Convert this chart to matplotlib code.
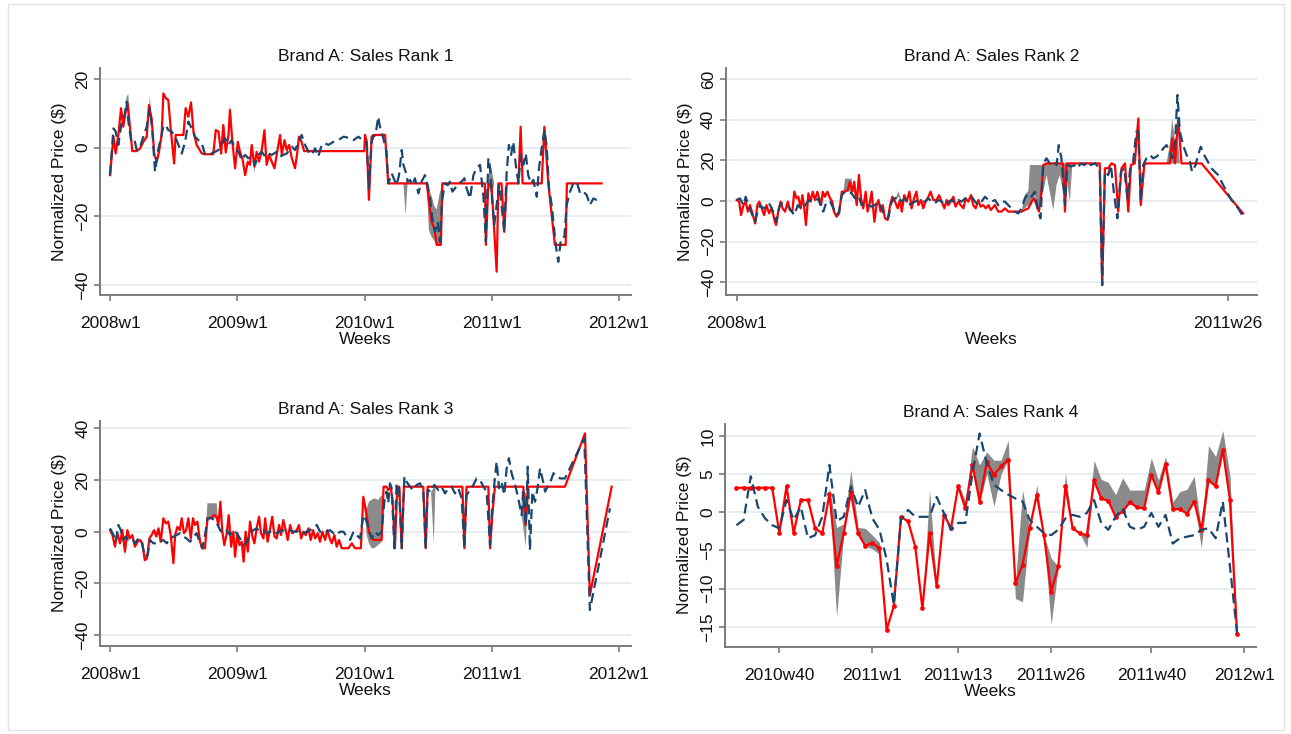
import matplotlib
matplotlib.use("Agg")
import matplotlib.pyplot as plt
from matplotlib.patches import Rectangle

plt.rcParams['font.family'] = ['Liberation Sans', 'DejaVu Sans']
nan = float('nan')

# ---------------- data (weeks counted from 2008w1 = 0) ----------------
# Panel 1: Brand A, Sales Rank 1
p1_red_wk = [0.0,1.4,2.3,3.4,4.5,5.4,6.4,7.2,8.2,9.1,10.9,12.3,13.6,15.0,15.9,17.0,18.1,19.1,20.0,21.1,21.8,22.8,23.8,24.9,26.2,26.8,30.0,30.9,32.0,33.1,34.1,35.4,37.5,38.8,42.2,43.2,44.3,45.4,46.3,47.3,48.4,49.0,50.0,51.1,52.2,53.1,54.1,55.2,56.3,57.2,57.9,59.0,59.9,60.9,62.0,63.1,64.0,65.0,66.1,67.2,68.1,69.5,70.2,71.3,72.2,73.2,74.3,75.6,76.4,77.2,78.3,79.3,103.9,104.2,104.9,105.8,106.9,107.6,112.4,113.7,129.4,131.4,132.5,133.5,135.2,135.8,153.2,153.6,154.6,155.9,158.0,158.7,160.0,161.1,162.1,166.9,167.8,168.6,176.4,177.5,179.1,181.8,186.2,186.7,200.9]
p1_red_val = [-8.0,3.2,-1.7,3.7,11.5,6.1,10.5,12.9,5.6,-1.0,-1.0,-0.2,1.7,3.2,12.4,8.5,-2.1,-4.1,-1.2,3.7,15.8,14.4,13.9,4.7,-4.6,3.7,3.7,11.5,9.0,13.2,4.7,0.8,-1.7,-1.9,-1.9,5.1,4.7,-1.7,6.6,-1.4,3.7,11.0,1.7,-6.0,1.7,-1.2,-3.1,-8.0,-4.1,-5.0,0.8,-5.5,-1.2,-4.1,-0.7,5.1,-5.0,-2.1,-4.1,-6.0,-2.1,3.7,-2.1,2.2,-0.7,0.8,-3.1,-6.0,-2.1,3.2,1.7,-1.0,-1.0,3.7,1.7,-15.2,3.2,3.7,3.7,-10.4,-10.4,-21.6,-23.5,-28.3,-28.3,-10.4,-10.4,-28.3,-10.4,-10.9,-36.1,-10.4,-10.4,-24.5,-10.4,-10.4,6.1,-10.4,-10.4,6.1,-10.4,-28.3,-28.3,-10.4,-10.4]
p1_blue_wk = [0.0,1.4,2.3,3.4,4.8,5.9,6.8,7.5,8.6,9.9,10.9,12.3,13.6,15.0,16.3,17.3,18.4,19.5,20.4,21.8,22.8,23.8,25.2,27.2,29.3,30.7,32.0,33.4,34.7,36.1,37.5,38.8,40.9,42.9,44.3,45.6,47.0,48.4,49.7,51.1,52.5,53.8,55.2,56.5,57.9,59.3,60.6,62.0,63.4,64.7,66.1,68.1,69.5,70.8,72.2,74.3,75.6,77.0,78.3,79.7,81.1,82.4,83.8,85.1,86.5,87.9,89.2,91.3,93.3,95.4,97.4,99.5,101.5,104.0,
              104.9,105.8,106.9,107.6,108.5,109.6,110.3,111.7,113.0,113.7,115.1,116.2,117.1,118.1,119.2,119.9,120.8,121.6,122.6,123.5,124.6,126.0,127.3,128.7,129.8,130.8,131.7,132.8,133.9,134.8,135.8,136.9,138.0,138.9,139.9,141.0,142.3,143.7,144.8,145.7,147.1,148.5,149.8,151.2,152.6,153.6,154.6,155.3,155.9,157.0,158.0,159.0,160.0,161.1,162.1,163.0,163.9,164.8,165.8,166.9,167.8,168.9,169.9,170.9,172.0,173.0,174.4,175.3,176.4,177.5,178.4,179.4,180.5,181.6,182.5,183.2,184.3,185.7,186.6,188.0,189.3,190.7,192.1,193.4,194.8,196.1,197.5,198.9,200.9]
p1_blue_val = [-8.0,5.6,4.7,0.8,7.6,9.5,13.4,7.6,2.2,2.7,-0.7,0.3,3.2,6.1,11.5,4.7,-7.0,-1.2,1.7,6.1,6.6,5.1,4.7,2.2,-1.7,1.7,7.6,5.6,3.2,2.2,1.3,-1.9,-1.9,-1.2,-0.7,0.8,2.7,0.8,2.2,-0.2,-1.2,-3.6,-2.1,-3.1,-2.6,-5.0,-2.1,-1.2,-2.6,-1.7,-2.1,-1.2,-2.6,-2.1,-1.7,0.3,-0.7,1.7,3.7,0.8,-1.2,-2.1,-0.2,-2.6,0.8,1.3,0.8,1.7,2.2,3.2,2.9,2.2,3.2,1.7,
               1.7,-11.8,1.7,3.2,3.7,9.0,6.1,2.7,-1.2,-10.4,-7.5,-9.4,-10.9,-8.0,-0.7,-5.0,-7.0,-9.9,-9.4,-10.9,-8.9,-13.3,-9.9,-8.0,-10.9,-14.8,-20.6,-24.5,-21.6,-27.4,-14.8,-10.4,-10.9,-9.9,-12.8,-11.8,-10.4,-9.9,-8.9,-11.8,-14.8,-8.0,-6.0,-5.0,-14.3,-27.4,-3.1,-6.0,-12.8,-22.5,-16.7,-10.9,-16.7,-24.5,-7.0,0.8,-2.1,1.7,-5.0,-10.4,-2.1,-5.0,-1.7,-8.0,-10.4,-9.4,-14.3,-6.0,-0.2,5.1,0.8,-11.8,-16.7,-24.5,-30.3,-33.2,-26.4,-25.9,-16.7,-12.8,-10.4,-9.9,-13.3,-12.8,-13.8,-16.7,-14.8,-15.2,-14.8]
p1_gray_wk = [5.9,6.8,7.5,8.6,nan,15.0,16.3,17.3,nan,48.4,49.0,50.0,nan,57.9,59.0,59.9,nan,119.9,120.8,121.6,nan,129.4,130.3,131.4,132.5,133.5,134.5,135.2,135.8,nan,154.6,155.3,155.9,157.0]
p1_gray_lo = [9.5,12.9,7.6,2.2,nan,3.2,11.5,4.7,nan,0.8,11.0,1.7,nan,0.8,-7.5,-1.2,nan,-10.4,-19.6,-10.4,nan,-10.4,-24.0,-26.0,-27.0,-28.3,-28.3,-28.3,-10.4,nan,-10.4,-12.8,-14.0,-10.4]
p1_gray_hi = [9.5,15.0,15.5,2.2,nan,3.2,15.0,4.7,nan,0.8,13.0,1.7,nan,0.8,-5.0,-1.2,nan,-10.4,-10.4,-10.4,nan,-10.4,-12.0,-14.0,-17.0,-18.0,-14.0,-12.0,-10.4,nan,-10.4,-4.0,-6.0,-10.4]

# Panel 2: Brand A, Sales Rank 2
p2_red_wk = [0.0,0.9,1.6,2.5,3.3,4.1,4.9,5.8,6.8,7.6,8.3,9.2,10.1,11.0,11.9,12.9,13.9,14.5,15.3,16.2,16.9,17.8,18.8,19.6,20.5,21.2,22.1,22.7,23.6,24.2,24.9,25.5,26.4,27.2,28.0,28.8,29.7,30.4,31.1,31.7,32.5,33.4,34.4,35.2,35.8,36.8,37.7,38.7,39.9,40.9,41.7,42.6,43.3,44.2,45.0,45.8,46.6,47.5,48.2,49.1,49.7,50.7,51.5,52.2,53.0,53.8,54.6,55.6,56.5,57.3,58.3,59.3,60.1,60.8,61.7,62.6,63.6,64.4,65.3,66.2,66.9,67.9,68.7,69.6,70.6,71.4,72.4,73.6,74.5,75.5,76.5,77.3,77.9,78.8,79.8,80.6,81.6,82.5,83.5,84.3,85.3,86.3,87.1,88.0,89.0,89.8,90.8,91.7,92.7,93.6,95.1,
             96.3,97.5,98.8,100.0,101.2,103.7,104.9,106.1,107.4,108.6,109.6,110.4,111.3,112.0,112.9,114.1,120.2,120.9,121.5,133.7,134.6,135.6,136.8,138.0,139.3,140.5,141.7,143.0,144.2,145.2,146.6,147.9,148.8,150.1,150.9,159.5,160.4,161.4,162.6,163.8,171.2,186.5]
p2_red_val = [0.5,-0.3,-6.9,-2.0,-0.3,-5.2,-2.0,-6.1,-11.0,-2.0,-0.3,-3.6,-6.9,-2.0,-6.1,-3.6,-9.3,-11.8,-5.2,-0.3,-3.6,-5.2,-0.3,-4.4,-5.2,4.6,1.3,2.1,-3.6,2.9,-3.6,-11.8,3.8,-0.3,4.6,0.5,4.6,1.3,-2.0,4.6,2.1,4.6,1.3,-0.3,-5.2,-7.7,-6.1,4.6,4.6,5.4,9.5,4.6,9.5,-2.0,12.8,1.3,-3.6,4.6,-5.2,-0.3,4.6,-10.2,-2.0,0.5,-5.2,-2.0,-8.5,-9.3,-2.0,2.1,-0.3,-3.6,0.5,-5.2,2.9,-0.3,4.6,-3.6,1.3,4.6,-2.0,0.5,-3.6,-0.3,2.1,4.6,0.5,0.5,2.9,-0.3,-3.6,0.5,-2.0,-0.3,2.1,-2.8,-0.3,-2.0,-3.6,1.3,-0.3,2.9,-2.0,-3.6,0.5,-2.8,-2.0,-3.6,-2.0,-4.4,-2.0,
              -5.2,-5.2,-3.6,-5.2,-5.2,-5.2,-5.2,-4.4,-3.6,-0.3,1.3,-2.0,-5.2,1.3,17.7,18.5,18.5,-5.2,18.5,18.5,-41.3,16.1,16.1,18.5,17.7,-5.2,16.1,18.5,-5.2,17.7,18.5,40.6,-2.0,17.7,18.5,18.5,30.8,18.5,40.6,18.5,18.5,-6.1]
p2_blue_wk = [0.0,1.2,2.5,3.3,4.3,5.5,6.8,7.7,8.6,9.8,11.0,11.9,12.9,13.9,14.7,15.7,16.6,17.8,19.0,20.3,21.2,22.5,23.7,24.9,26.1,27.4,28.8,30.1,31.1,31.9,33.1,34.4,35.6,36.8,37.7,38.7,39.9,41.1,42.3,43.6,44.8,46.0,47.3,48.5,49.7,50.9,52.2,53.4,54.6,55.8,57.1,58.3,59.5,60.8,62.0,63.2,64.4,65.7,66.9,68.1,69.3,70.6,71.8,73.0,74.3,75.5,76.7,77.9,79.2,80.4,81.6,82.8,84.1,85.3,86.5,87.8,89.0,90.2,91.4,92.7,93.9,95.1,
              96.3,97.5,98.8,100.0,101.2,102.4,103.7,104.9,106.1,107.4,108.6,109.8,111.0,111.9,112.9,114.1,115.3,116.6,117.8,118.6,119.6,120.9,121.8,123.1,124.3,125.5,126.7,128.0,129.2,130.4,131.9,133.7,134.6,135.6,136.8,137.8,139.0,140.2,141.5,142.7,143.9,144.9,146.0,147.2,147.9,148.8,149.7,150.9,152.2,153.4,154.6,155.8,157.1,158.3,159.5,160.4,161.4,162.3,163.2,164.4,165.7,166.9,167.7,169.0,169.9,170.9,172.4,174.9,177.3,179.8,182.2,184.7,186.5]
p2_blue_val = [0.5,1.3,-2.0,2.1,-2.0,-6.1,-10.2,-5.2,-2.0,-3.6,-2.8,-1.1,-3.6,-6.9,-10.2,-2.8,-1.1,-2.0,-2.8,-5.2,-6.9,-2.0,-3.6,-2.8,-0.3,0.5,-0.3,1.3,-3.6,-5.2,-0.3,-0.3,-3.6,-6.9,-5.2,2.9,4.6,4.6,3.8,1.3,2.9,-2.0,-1.1,-2.0,-2.8,-2.0,-0.3,-3.6,-7.7,-8.5,-0.3,1.3,2.1,-0.3,1.3,-2.0,-1.1,-0.3,0.5,-0.3,-0.3,1.3,-0.3,-1.1,0.5,-0.3,-2.0,-0.3,0.5,-1.1,0.5,-0.3,1.3,1.3,2.1,-0.3,-2.0,-0.3,2.1,0.5,-0.3,0.5,
               -2.0,-0.3,-0.3,-2.0,-3.6,-5.2,-6.1,-3.6,1.3,3.8,2.1,4.6,-5.2,-8.5,18.5,21.0,18.5,19.3,17.7,27.5,21.0,-2.0,17.7,16.9,17.7,16.1,18.5,17.7,19.3,17.7,18.5,16.1,-41.3,14.4,12.8,17.7,2.9,-8.5,14.4,16.1,1.3,16.1,19.3,34.1,34.1,-0.3,17.7,21.0,22.6,21.0,21.8,23.4,25.9,27.5,24.2,21.0,27.5,52.1,34.1,27.5,22.6,19.3,14.4,17.7,22.6,26.7,22.0,16.0,12.8,6.2,0.5,-3.6,-7.7]
p2_gray_wk = [39.3,39.9,42.3,42.9,nan,58.3,59.5,60.8,nan,104.9,106.1,107.4,108.0,108.6,109.8,111.0,112.0,112.9,114.1,115.3,116.6,117.8,119.0,120.2,121.5,122.7,123.6,nan,158.3,159.5,160.4,161.4,162.0,162.6,163.2]
p2_gray_lo = [4.6,4.6,4.6,4.6,nan,-0.3,2.1,-0.3,nan,-5.2,-3.6,-2.0,-2.0,-2.0,2.9,-5.2,1.3,4.6,12.8,4.6,-4.4,7.9,12.8,4.6,11.1,-0.3,17.7,nan,18.5,18.5,18.5,18.5,18.5,18.5,18.5]
p2_gray_hi = [4.6,11.0,11.0,4.6,nan,-0.3,5.0,-0.3,nan,-5.2,3.0,5.0,17.7,17.7,17.7,17.7,17.7,17.7,18.5,18.5,18.5,18.5,18.5,18.5,18.5,18.5,17.7,nan,18.5,28.0,40.6,30.0,33.0,28.0,18.5]

# Panel 3: Brand A, Sales Rank 3
p3_red_wk = [0.0,1.0,2.0,3.0,4.1,5.0,6.1,7.1,8.0,9.1,10.2,11.2,12.3,13.2,14.2,15.1,16.1,17.0,18.0,18.9,19.8,20.7,21.8,22.8,23.8,24.8,25.9,26.6,27.5,28.5,29.3,30.2,31.1,32.0,33.0,33.9,34.7,35.7,36.8,37.7,38.8,39.8,40.7,41.8,42.6,43.5,44.3,45.1,45.9,46.7,47.7,48.5,49.5,50.4,51.1,52.0,52.9,53.8,54.6,55.4,56.3,57.2,58.2,59.0,59.9,60.9,61.7,62.7,63.4,64.4,65.4,66.3,67.2,68.1,69.1,69.9,70.8,71.8,72.6,73.6,74.5,75.3,76.3,77.2,78.1,79.0,80.0,81.1,82.0,83.0,83.8,84.9,85.8,86.8,87.9,88.8,89.8,90.6,91.7,92.6,93.6,94.7,96.0,97.4,98.8,100.1,101.5,102.5,103.5,
             104.9,105.8,106.9,108.0,111.0,111.8,113.0,113.7,114.7,115.5,116.4,117.4,118.2,119.2,120.1,128.0,129.0,129.8,144.0,144.8,145.7,154.6,155.3,156.2,157.3,168.9,169.9,170.9,185.9,194.1,196.1,205.0]
p3_red_val = [0.6,-1.3,-5.8,-0.6,-4.5,0.6,-7.7,0.6,-2.6,-1.3,-5.8,-3.9,-3.2,-4.5,-11.0,-10.3,-2.6,-1.3,0.6,-1.9,1.3,-3.9,5.2,3.2,3.9,-1.3,-12.2,-1.3,1.9,0.6,5.2,-0.6,0.6,5.2,-2.6,5.2,2.6,3.9,-3.9,-6.4,-6.4,5.2,5.2,5.8,6.4,5.8,2.6,11.6,0.0,-5.2,-0.6,6.4,-5.8,0.0,-9.7,-0.6,-5.2,-3.9,-11.6,0.0,-7.7,3.9,-1.9,-4.5,1.3,5.8,-0.6,-2.6,5.2,-3.9,1.3,5.8,-1.9,-2.6,2.6,-1.3,4.5,0.6,-3.2,2.6,-0.6,0.0,0.6,2.6,-2.6,0.0,-1.3,1.3,-3.2,0.6,-2.6,-0.6,-3.9,0.0,-3.2,0.6,-2.6,-4.5,-1.3,-5.8,-3.2,-6.4,-6.4,-6.4,-4.5,-6.4,-6.4,-6.4,13.5,
              6.4,0.0,-2.6,-3.2,-3.2,17.4,17.4,16.1,17.4,11.6,-6.4,17.4,17.4,-6.4,17.4,17.4,-6.4,17.4,17.4,-6.4,17.4,17.4,-6.4,6.4,17.4,17.4,2.6,17.4,17.4,38.0,-24.5,17.4]
p3_blue_wk = [0.0,1.4,2.3,3.4,4.4,5.4,6.4,7.5,8.9,10.2,11.6,12.9,14.3,15.4,16.3,17.7,19.1,20.4,21.8,23.2,24.5,25.9,27.2,28.6,30.0,31.3,32.7,34.1,35.4,36.8,37.7,38.8,39.9,41.3,42.9,44.0,45.0,46.3,47.7,49.0,50.4,51.8,53.1,54.5,55.9,57.2,58.6,59.9,61.3,62.7,64.0,65.4,66.8,68.1,69.5,70.8,72.2,73.6,74.9,76.3,77.7,79.0,80.4,81.7,83.1,84.5,85.8,87.2,88.6,89.9,91.3,92.6,94.0,95.4,96.7,98.1,99.5,100.8,102.2,103.5,
              104.9,105.8,106.9,108.3,109.6,111.0,112.1,113.0,113.7,114.4,115.1,116.2,117.1,118.1,119.2,120.3,121.2,122.6,123.9,125.3,126.7,128.0,129.0,129.8,131.2,132.5,134.2,135.5,136.9,138.2,139.6,141.0,142.3,143.7,144.8,145.7,147.1,148.5,149.8,151.2,152.6,153.9,155.3,156.2,157.3,158.0,159.0,160.0,161.1,162.1,163.0,164.1,165.2,166.2,167.1,168.2,168.9,169.9,170.7,171.6,172.6,173.7,174.8,175.7,176.7,177.8,178.8,179.8,181.2,182.5,183.9,185.9,193.8,196.1,204.3]
p3_blue_val = [1.3,-1.3,-3.9,2.6,0.6,-3.2,-1.9,-3.2,-2.6,-4.5,-2.6,-3.9,-9.7,-9.0,-3.2,-4.5,-4.5,-3.9,-3.2,-4.5,-2.6,-1.9,-1.3,-0.6,-1.9,-2.6,-3.9,-1.9,-0.6,-4.5,-6.4,-1.3,5.2,5.2,4.5,2.6,0.6,-0.6,0.6,-1.3,0.6,-0.6,-2.6,-5.2,-3.9,-0.6,0.6,1.3,0.0,0.6,-0.6,0.0,0.6,-0.6,0.0,0.6,0.0,0.6,0.0,0.0,0.6,-0.6,0.0,0.6,1.3,2.6,0.0,-0.6,0.0,0.6,-0.6,-1.3,0.0,0.0,-1.9,-3.2,0.0,-1.3,-2.6,6.4,
               3.9,1.3,-2.6,0.0,-1.3,0.0,11.6,15.5,11.0,18.7,16.8,-6.4,18.7,16.8,-6.4,21.3,19.3,17.4,16.1,18.1,18.7,15.5,-6.4,16.1,15.5,18.1,16.1,17.4,14.8,16.8,17.4,14.8,16.8,12.9,-6.4,14.2,16.1,18.1,20.6,20.0,17.4,15.5,-5.2,9.0,21.3,27.1,16.8,19.3,14.2,24.5,28.4,22.6,19.3,15.5,11.6,6.4,15.5,2.6,25.1,-7.1,15.5,11.6,17.4,24.5,20.6,15.5,17.4,18.7,22.6,21.9,20.6,20.6,36.1,-30.3,9.0]
p3_gray_wk = [5.0,6.1,7.1,nan,38.8,39.8,43.6,44.3,nan,103.5,104.9,105.8,106.9,108.0,109.6,111.0,112.1,nan,131.2,132.3,133.0,nan,168.2,169.9,170.7]
p3_gray_lo = [0.6,-9.5,0.6,nan,-6.4,5.2,5.2,2.6,nan,13.5,-1.3,-4.5,-6.4,-6.4,-5.2,-3.9,11.6,nan,15.5,-4.5,17.0,nan,6.4,-5.8,15.5]
p3_gray_hi = [0.6,-7.7,0.6,nan,-6.4,11.0,11.0,2.6,nan,13.5,9.0,11.6,12.3,12.9,12.3,14.2,11.6,nan,15.5,17.0,17.0,nan,15.5,15.0,17.0]

# Panel 4: Brand A, Sales Rank 4 (weekly, 2010w34 .. 2011w52)
p4_wk = list(range(137, 208))
p4_red = [3.2,3.2,3.2,3.2,3.2,3.2,-2.75,3.4,-2.75,1.6,
          1.6,-2.1,-2.75,2.4,-7.1,-2.75,2.6,-2.75,-4.4,-4.0,
          -4.7,-15.4,-12.3,-0.6,-1.2,-4.5,-12.6,-2.75,-9.7,-0.3,
          -2.1,3.4,0.5,6.2,1.4,6.6,4.9,6.0,6.9,-9.3,
          -6.9,-2.1,2.3,-3.0,-10.4,-7.1,3.4,-2.1,-2.75,-3.0,
          4.2,1.8,1.5,-0.6,0.1,1.3,0.65,0.5,4.9,2.6,
          6.3,0.4,0.4,-0.2,1.4,-2.3,4.2,3.4,8.2,1.6,
          -16.0]
p4_blue = [-1.7,-1.0,4.7,0.7,-0.8,-1.7,-2.1,1.6,-1.0,0.7,
           -3.4,-3.0,-0.6,6.2,-1.2,-0.6,3.4,0.7,2.9,-0.8,
           -2.3,-6.2,-12.1,-1.0,0.3,-0.6,-0.6,-0.6,2.0,-0.1,
           -2.3,-1.4,-1.4,5.1,10.3,6.4,3.6,2.9,2.3,1.8,
           1.4,-1.0,-1.9,-2.75,-3.0,-2.3,-0.8,-0.35,-0.6,-0.1,
           1.6,-1.4,-2.3,-0.6,0.5,-1.9,-2.3,-1.9,-0.1,-1.9,
           -0.35,-4.1,-3.4,-3.2,-3.0,-2.3,-2.1,-3.4,1.4,-7.1,
           -15.8]
p4_gray_lo = [3.2,3.2,3.2,3.2,3.2,3.2,-2.75,3.4,-2.75,1.6,
              1.6,-2.1,-2.75,2.4,-13.7,-2.75,2.6,-2.75,-4.4,-4.8,
              -5.5,-15.4,-12.3,-0.6,-1.2,-4.5,-12.6,-2.75,-9.7,-0.3,
              -2.1,3.4,0.5,6.2,1.4,5.0,0.8,5.0,6.9,-11.3,
              -11.7,-2.1,2.3,-3.5,-14.7,-7.1,3.4,-2.1,-2.75,-4.6,
              4.2,1.8,1.5,-0.6,0.1,1.3,0.65,0.5,4.9,2.6,
              6.3,0.4,0.4,-0.2,1.4,-4.7,4.2,3.4,8.2,1.6,
              -16.0]
p4_gray_hi = [3.2,3.2,3.2,3.2,3.2,3.2,-2.75,3.4,-2.75,1.6,
              1.6,-2.1,-2.75,3.2,-2.0,-1.5,5.5,-2.0,-2.1,-3.0,
              -4.0,-15.4,-12.3,-0.6,-1.2,-4.5,-12.6,2.9,-9.7,0.0,
              -2.1,3.8,1.5,8.6,6.2,7.9,6.8,6.8,9.4,-9.3,
              2.9,-2.1,3.6,-3.0,-6.0,-7.1,5.1,-2.1,-2.75,-3.0,
              6.8,4.3,3.9,2.3,4.5,2.9,2.9,2.9,7.1,4.2,
              7.3,1.3,2.7,3.0,4.7,-2.3,8.7,7.3,10.7,4.8,
              -16.0]

# tick positions / labels
yr_ticks = [0, 52, 104, 156, 208]
yr_labels = ['2008w1', '2009w1', '2010w1', '2011w1', '2012w1']
p2_ticks = [0, 181]
p2_labels = ['2008w1', '2011w26']
p4_ticks = [143, 156, 168, 181, 195, 208]
p4_labels = ['2010w40', '2011w1', '2011w13', '2011w26', '2011w40', '2012w1']
titles = ['Brand A: Sales Rank 1', 'Brand A: Sales Rank 2', 'Brand A: Sales Rank 3', 'Brand A: Sales Rank 4']

# ---------------- styling ----------------
RED = '#ff0000'
NAVY = '#1a476f'
GRAY = '#8a8a8a'
GRIDC = '#e4edf0'
AXC = '#7a7a7a'
TXT = '#111111'
FS = 12.5

W, H = 1291, 734
fig = plt.figure(figsize=(W / 100, H / 100), dpi=100)
fig.patch.set_facecolor('white')
fig.add_artist(Rectangle((8 / W, 4 / H), (1284 - 8) / W, (730 - 4) / H, transform=fig.transFigure,
                         fill=False, ec='#e2e2e2', lw=1.0))


def px_axes(l, r, t, b):
    return fig.add_axes([l / W, 1 - b / H, (r - l) / W, (b - t) / H])


def draw(ax, rw, rv, bw, bv, gw, glo, ghi, title, xlim, ylim, yticks, xticks, xlabels, ms=0):
    ax.fill_between(gw, glo, ghi, color=GRAY, lw=0, zorder=2)
    if ms > 0:
        ax.plot(rw, rv, color=RED, lw=1.6, marker='o', ms=ms, zorder=3)
    else:
        ax.plot(rw, rv, color=RED, lw=1.6, zorder=3)
    ax.plot(bw, bv, color=NAVY, lw=1.6, dashes=(4.5, 2.4), zorder=4)
    ax.set_xlim(*xlim)
    ax.set_ylim(*ylim)
    ax.set_yticks(yticks)
    ax.set_xticks(xticks)
    ax.set_xticklabels(xlabels)
    ax.grid(axis='y', color=GRIDC, lw=1.3, zorder=0)
    ax.set_axisbelow(True)
    for s in ('top', 'right'):
        ax.spines[s].set_visible(False)
    for s in ('left', 'bottom'):
        ax.spines[s].set_color(AXC)
        ax.spines[s].set_linewidth(1.4)
    ax.tick_params(axis='both', direction='out', length=4, width=1.2, color=AXC,
                   labelsize=FS, labelcolor=TXT)
    ax.tick_params(axis='x', pad=11)
    ax.tick_params(axis='y', pad=3)
    for lab in ax.get_yticklabels():
        lab.set_rotation(90)
        lab.set_va('center')
    ax.set_title(title, fontsize=FS, color=TXT, pad=5)
    ax.set_xlabel('Weeks', fontsize=FS, color=TXT, labelpad=1)
    ax.set_ylabel(r'Normalized Price (\$)', fontsize=FS, color=TXT, labelpad=6)


ax1 = px_axes(100, 631, 68, 295)
draw(ax1, p1_red_wk, p1_red_val, p1_blue_wk, p1_blue_val, p1_gray_wk, p1_gray_lo, p1_gray_hi,
     titles[0], (-4.1, 212.9), (-42.9, 23.2), [-40, -20, 0, 20], yr_ticks, yr_labels)

ax2 = px_axes(725.7, 1256.7, 68, 295)
draw(ax2, p2_red_wk, p2_red_val, p2_blue_wk, p2_blue_val, p2_gray_wk, p2_gray_lo, p2_gray_hi,
     titles[1], (-4.05, 191.5), (-46.2, 65.4), [-40, -20, 0, 20, 40, 60], p2_ticks, p2_labels)

ax3 = px_axes(100, 631, 420.5, 646)
draw(ax3, p3_red_wk, p3_red_val, p3_blue_wk, p3_blue_val, p3_gray_wk, p3_gray_lo, p3_gray_hi,
     titles[2], (-4.1, 212.9), (-44.2, 43.0), [-40, -20, 0, 20, 40], yr_ticks, yr_labels)

ax4 = px_axes(725, 1255.7, 423.6, 646.7)
draw(ax4, p4_wk, p4_red, p4_wk, p4_blue, p4_wk, p4_gray_lo, p4_gray_hi,
     titles[3], (135.4, 209.6), (-17.6, 11.6), [-15, -10, -5, 0, 5, 10], p4_ticks, p4_labels, ms=2.4)

fig.savefig('out.png', dpi=100, facecolor='white')
